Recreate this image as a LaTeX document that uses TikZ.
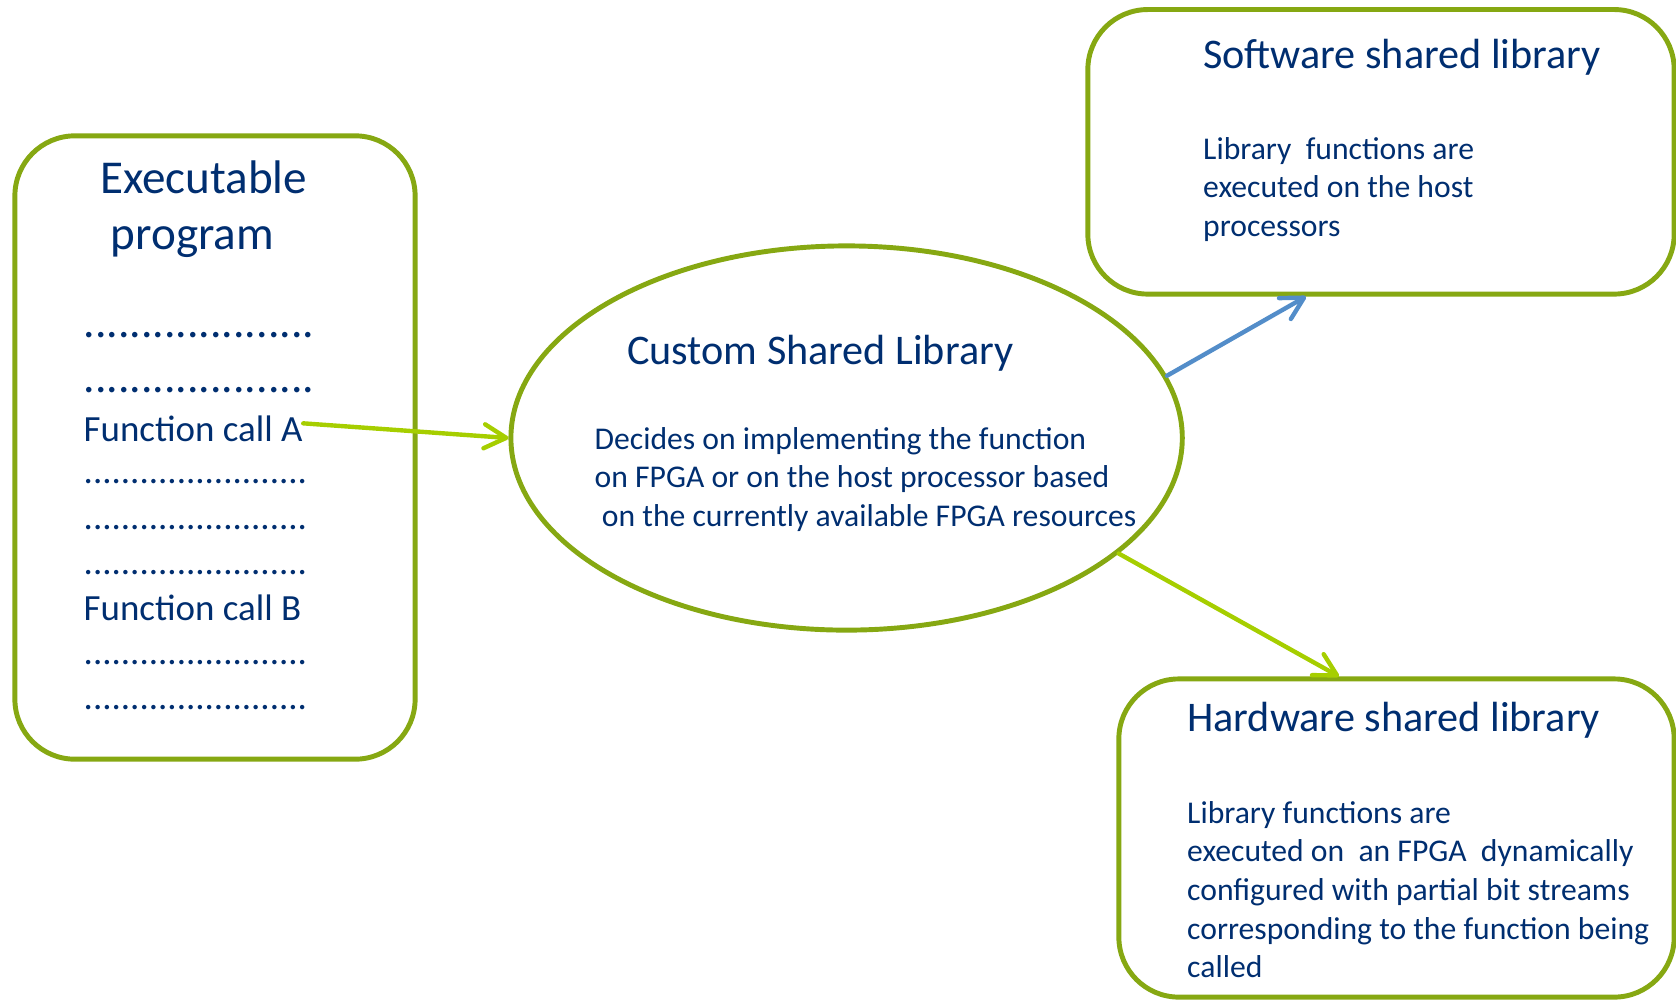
\documentclass[tikz,border=0pt]{standalone}
\usepackage{fontspec}
\setmainfont{Carlito}
\usepackage{xcolor}
\usepackage{tikz}
\usetikzlibrary{arrows.meta,shapes.geometric,positioning}
\definecolor{libgreen}{RGB}{134,168,18}
\definecolor{callgreen}{RGB}{166,206,0}
\definecolor{callblue}{RGB}{83,141,201}
\definecolor{libtext}{RGB}{0,46,112}

\newcommand\exefont{\fontsize{13.4}{15.8}\selectfont}
\newcommand\dotfont{\fontsize{13}{15.8}\selectfont}
\newcommand\headfont{\fontsize{12}{14.6}\selectfont}
\newcommand\callfont{\fontsize{10.5}{12.8}\selectfont}
\newcommand\bodyfont{\fontsize{9}{11}\selectfont}

\tikzset{
  libbox/.style={draw=libgreen, line width=1.4pt, rounded corners=0.6cm, inner sep=0pt},
  libtxt/.style={text=libtext, inner sep=0pt, anchor=base west, align=left},
  callarrow/.style={line width=1.25pt, line cap=round,
    -{Straight Barb[length=2.2mm, width=2.4mm, round]}}
}

\begin{document}
\begin{tikzpicture}[x=0.01cm, y=-0.01cm]
    \useasboundingbox (0,0) rectangle (1676,999);
    \clip (0,0) rectangle (1676,999);

    % Executable program (base = last line)
    \node[libbox, minimum width=4cm, minimum height=6.23cm] (exe) at (215,447.5) {};
    \node[libtxt, font=\exefont] (exetitle) at (99.4,249) {Executable\\\hspace*{0.23em}program};
    \foreach \yb in {337,392} {
        \node[libtxt, font=\dotfont] (dots\yb) at (83,\yb) {....................};
    }
    \node[libtxt, font=\callfont] (fcA) at (83,441) {Function call A};
    \foreach \yb in {483,529,574,664,709} {
        \node[libtxt, font=\callfont] (dots\yb) at (83,\yb) {........................};
    }
    \node[libtxt, font=\callfont] (fcB) at (83,620) {Function call B};

    % Custom shared library
    \node[ellipse, draw=libgreen, line width=1.4pt, inner sep=0pt,
          minimum width=6.71cm, minimum height=3.84cm] (csl) at (846.6,438) {};
    \node[libtxt, font=\headfont] (csltitle) at (626.4,364.5) {Custom Shared Library};
    \node[libtxt, font=\bodyfont] (cslbody) at (594,526.4)
        {Decides on implementing the function\\on FPGA or on the host processor based\\\hspace*{0.23em}on the currently available FPGA resources};

    % Software shared library
    \node[libbox, minimum width=5.86cm, minimum height=2.844cm] (sw) at (1381,151.8) {};
    \node[libtxt, font=\headfont] (swtitle) at (1202.5,68.4) {Software shared library};
    \node[libtxt, font=\bodyfont] (swbody) at (1202.5,236.4)
        {Library~ functions are\\executed on the host\\processors};

    % Hardware shared library
    \node[libbox, minimum width=5.55cm, minimum height=3.18cm] (hw) at (1396.5,838) {};
    \node[libtxt, font=\headfont] (hwtitle) at (1186.5,731) {Hardware shared library};
    \node[libtxt, font=\bodyfont] (hwbody) at (1186.5,977.8)
        {Library functions are\\executed on~ an FPGA~ dynamically\\configured with partial bit streams\\corresponding to the function being\\called};

    % Calls
    \draw[callarrow, draw=callgreen] ([yshift=0.05cm]fcA.east) -- (csl.west);
    \draw[callarrow, draw=callblue] (csl.11) -- ([xshift=-0.75cm]sw.south);
    \draw[callarrow, draw=callgreen] (csl.-23) -- ([xshift=-0.575cm]hw.north);
\end{tikzpicture}
\end{document}
